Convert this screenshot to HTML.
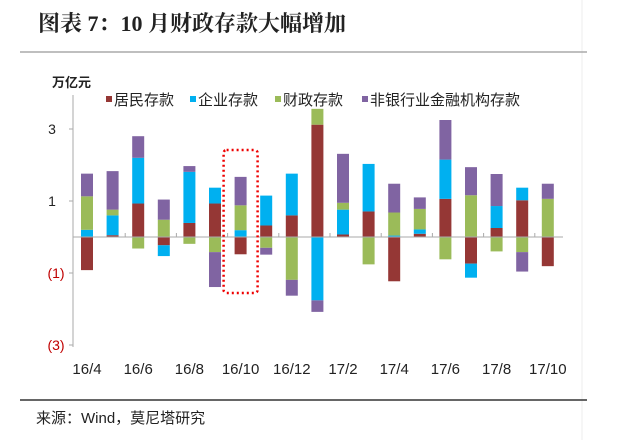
<!DOCTYPE html>
<html><head><meta charset="utf-8"><style>
body{margin:0;width:620px;height:440px;background:#fff;overflow:hidden;font-family:"Liberation Sans","Noto Sans CJK SC",sans-serif}
</style></head><body>
<svg width="620" height="440" style="position:absolute;left:0;top:0">
<rect x="0" y="0" width="620" height="440" fill="#fff"/>
<line x1="582" y1="0" x2="582" y2="440" stroke="#eee"/>
<text x="38" y="31" font-family="'Liberation Serif','Noto Serif CJK SC',serif" font-weight="bold" font-size="22" fill="#222">图表 7：10 月财政存款大幅增加</text>
<line x1="20" y1="52" x2="587" y2="52" stroke="#999" stroke-width="1.2"/>
<text x="52" y="87" font-size="13" font-weight="bold" fill="#222">万亿元</text>
<g id="legend" font-size="15" fill="#222"></g>
<g id="plot"></g>
<line x1="20" y1="400" x2="587" y2="400" stroke="#333" stroke-width="1.5"/>
<text x="36" y="423" font-size="15" fill="#222">来源：Wind，莫尼塔研究</text>
</svg>
<script>
const categories=["16/4","16/5","16/6","16/7","16/8","16/9","16/10","16/11","16/12","17/1","17/2","17/3","17/4","17/5","17/6","17/7","17/8","17/9","17/10"];
const household=[-0.92,0.05,0.93,-0.23,0.39,0.93,-0.48,0.32,0.6,3.12,0.07,0.71,-1.23,0.09,1.06,-0.74,0.25,1.02,-0.81];
const corporate=[0.2,0.55,1.27,-0.3,1.42,0.44,0.19,0.83,1.16,-1.76,0.69,1.32,0.04,0.12,1.09,-0.39,0.61,0.35,0];
const fiscal=[0.93,0.16,-0.32,0.48,-0.19,-0.42,0.69,-0.3,-1.19,0.44,0.19,-0.76,0.64,0.57,-0.62,1.16,-0.4,-0.42,1.06];
const nonbank=[0.63,1.07,0.6,0.56,0.16,-0.97,0.79,-0.19,-0.44,-0.32,1.36,0,0.8,0.32,1.1,0.78,0.89,-0.54,0.42];
const seriesNames=["居民存款","企业存款","财政存款","非银行业金融机构存款"];
const tickValues=[3,1,-1,-3];
const tickLabels=["3","1","(1)","(3)"];
const colors=["#953735","#00b0f0","#9bbb59","#8064a2"];
const series=[household,corporate,fiscal,nonbank];
const NS="http://www.w3.org/2000/svg";
const plot=document.getElementById('plot');
const x0=74,step=25.6,zeroY=237,unit=36,bw=12;
const xc=i=>x0+13+i*step;
const y=v=>zeroY-v*unit;
function mk(t,a){const e=document.createElementNS(NS,t);for(const k in a)e.setAttribute(k,a[k]);return e;}
let ax=mk('line',{x1:73,y1:95,x2:73,y2:347,stroke:'#aaa'});


plot.appendChild(ax);
tickValues.forEach((v,i)=>{
 const t=mk('text',{x:v<0?56:52,y:y(v)+5,'font-size':14,'text-anchor':'middle',fill:v<0?'#c00000':'#222'});
 t.textContent=tickLabels[i];
 
 
 plot.appendChild(t);
 const tk=mk('line',{x1:69,y1:y(v),x2:73,y2:y(v),stroke:'#aaa'});
 
 
 plot.appendChild(tk);
});
categories.forEach((c,i)=>{
 let pos=0,neg=0;
 series.forEach((s,k)=>{
  const v=s[i];if(!v)return;
  let top,bot;
  if(v>0){top=pos+v;bot=pos;pos=top;}else{top=neg;bot=neg+v;neg=bot;}
  const r=mk('rect',{x:xc(i)-bw/2,y:y(top),width:bw,height:y(bot)-y(top),fill:colors[k]});
  
  
  plot.appendChild(r);
 });
 if(i%2==0){
  const t=mk('text',{x:xc(i),y:374,'font-size':15,'text-anchor':'middle',fill:'#222'});
  t.textContent=c;
  
  
  plot.appendChild(t);
 }
});
let zl=mk('line',{x1:73,y1:zeroY,x2:563,y2:zeroY,stroke:'#aaa'});


plot.appendChild(zl);
for(let i=2;i<categories.length;i+=2){
 const xt=x0+i*step;
 const tk=mk('line',{x1:xt,y1:zeroY-4,x2:xt,y2:zeroY,stroke:'#aaa'});
 
 
 plot.appendChild(tk);
}
const hb=mk('rect',{x:xc(6)-17,y:150,width:34,height:143,rx:3,fill:'none',stroke:'#e00',"stroke-width":2.5,"stroke-dasharray":"2 3"});


plot.appendChild(hb);
const lg=document.getElementById('legend');
const lx=[106,190,275,362];
seriesNames.forEach((n,k)=>{
 const r=mk('rect',{x:lx[k],y:96,width:6,height:6,fill:colors[k]});
 
 
 lg.appendChild(r);
 const t=mk('text',{x:lx[k]+8,y:105});
 t.textContent=n;
 
 
 lg.appendChild(t);
});
</script>
</body></html>
